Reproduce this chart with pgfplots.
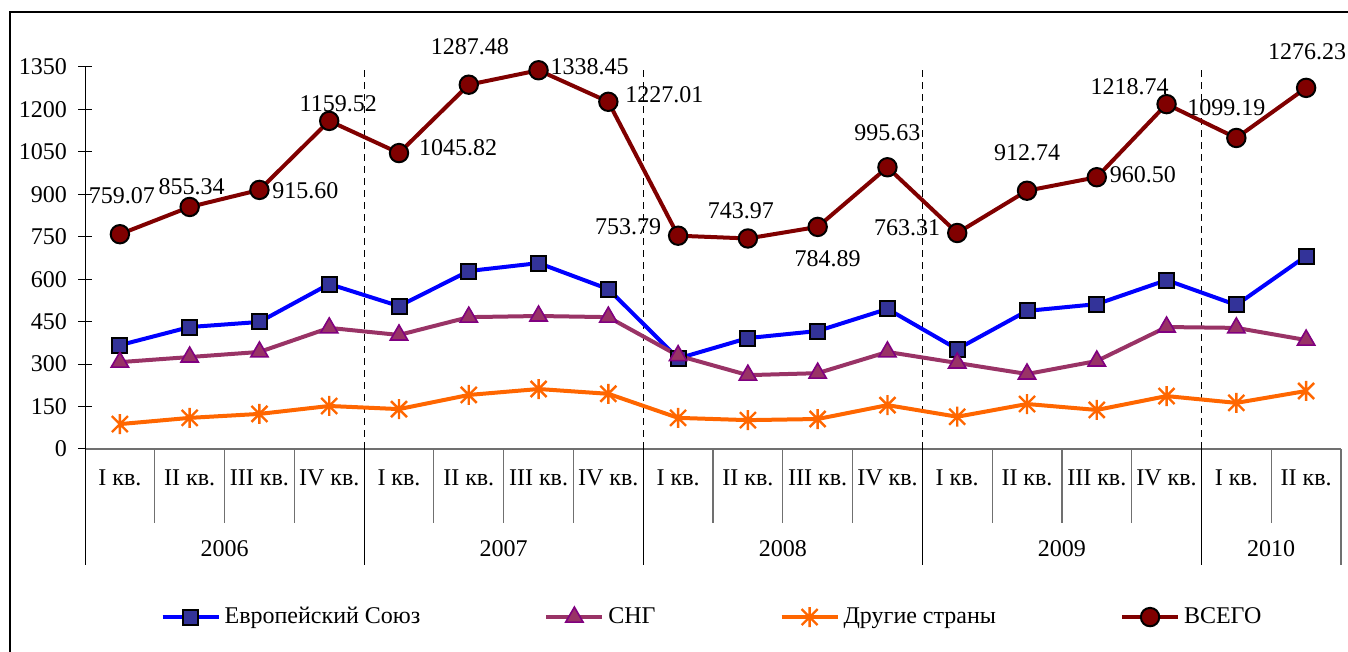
\documentclass[border=0pt]{standalone}
\usepackage{fontspec}
\setmainfont{Liberation Serif}
\usepackage{pgfplots}
\pgfplotsset{compat=1.18}
\usepackage{pgfplotstable}

\definecolor{total}{HTML}{800000}
\definecolor{eu}{HTML}{0000FF}
\definecolor{eufill}{HTML}{333399}
\definecolor{cis}{HTML}{993366}
\definecolor{cisedge}{HTML}{800080}
\definecolor{other}{HTML}{FF6600}
\definecolor{sep}{HTML}{707070}

% Excel-Stern: X mit senkrechtem Strich
\pgfdeclareplotmark{xstar}{%
  \pgfpathmoveto{\pgfqpoint{-0.8\pgfplotmarksize}{-0.8\pgfplotmarksize}}%
  \pgfpathlineto{\pgfqpoint{0.8\pgfplotmarksize}{0.8\pgfplotmarksize}}%
  \pgfpathmoveto{\pgfqpoint{-0.8\pgfplotmarksize}{0.8\pgfplotmarksize}}%
  \pgfpathlineto{\pgfqpoint{0.8\pgfplotmarksize}{-0.8\pgfplotmarksize}}%
  \pgfpathmoveto{\pgfqpoint{0pt}{-\pgfplotmarksize}}%
  \pgfpathlineto{\pgfqpoint{0pt}{\pgfplotmarksize}}%
  \pgfusepathqstroke}

% Quartale 2006 I ... 2010 II
\pgfplotstableread{
x eu cis other
0 367 307 88
1 431 325 110
2 449 343 124
3 583 428 152
4 505 403 141
5 629 466 191
6 657 470 212
7 565 466 195
8 320 330 110
9 392 261 102
10 417 268 106
11 495 343 155
12 353 304 114
13 488 265 159
14 512 311 138
15 597 431 187
16 509 428 163
17 682 385 205
}\regions

% ВСЕГО mit Beschriftung und Versatz (pt)
\pgfplotstableread{
x y lab dx dy
0 759.07 759.07 1 19.5
1 855.34 855.34 1 10
2 915.60 915.60 23 -0.5
3 1159.52 1159.52 4.5 8.5
4 1045.82 1045.82 29.5 2.5
5 1287.48 1287.48 0.5 19
6 1338.45 1338.45 25.5 2
7 1227.01 1227.01 28 3.5
8 753.79 753.79 -25 4.5
9 743.97 743.97 -3.5 14
10 784.89 784.89 5 -16
11 995.63 995.63 0 17.5
12 763.31 763.31 -25 2.5
13 912.74 912.74 0 19
14 960.50 960.50 23 1.5
15 1218.74 1218.74 -18.5 8.5
16 1099.19 1099.19 -5 15
17 1276.23 1276.23 0.5 18
}\totaldata

\begin{document}
\begin{tikzpicture}[font=\fontsize{12}{14}\selectfont]
\useasboundingbox (0,0) rectangle (674pt,326pt);
\draw[line width=0.6pt] (5pt,-10pt) -- (5pt,320pt) -- (690pt,320pt);

\begin{axis}[
    at={(42.5pt,101.5pt)}, anchor=south west,
    scale only axis, width=628pt, height=191pt,
    xmin=-0.5, xmax=17.5, ymin=0, ymax=1350,
    axis lines*=left,
    x axis line style={sep, line width=0.6pt},
    y axis line style={black, line width=0.5pt},
    ytick={0,150,...,1350},
    xtick={0,...,17},
    xticklabels={I кв.,II кв.,III кв.,IV кв.,I кв.,II кв.,III кв.,IV кв.,I кв.,II кв.,III кв.,IV кв.,I кв.,II кв.,III кв.,IV кв.,I кв.,II кв.},
    xtick style={draw=none},
    ytick style={black, line width=0.5pt},
    tick align=center, major tick length=7pt,
    xticklabel style={anchor=center, yshift=-11pt},
    yticklabel style={xshift=-2pt},
    tick label style={font=\fontsize{12}{14}\selectfont},
    /pgf/number format/assume math mode=true,
    /pgf/number format/1000 sep={},
    clip=false,
    legend columns=4,
    legend style={at={(0.5,-0.44)}, anchor=center, draw=none,
        font=\fontsize{12}{14}\selectfont,
        /tikz/every even column/.append style={column sep=60pt}},
    legend image code/.code={
        \draw[mark repeat=2, mark phase=2, #1] plot coordinates {(0pt,0pt) (14pt,0pt) (28pt,0pt)};
    },
]

% Jahresgrenzen
\pgfplotsinvokeforeach{3.5,7.5,11.5,15.5}{
    \draw[black, line width=0.5pt, dash pattern=on 3.5pt off 2.5pt] (axis cs:#1,0) -- (axis cs:#1,1350);
}
\pgfplotsinvokeforeach{-0.5,3.5,7.5,11.5,15.5}{
    \draw[black, line width=0.5pt] (axis cs:#1,0) -- ++(0pt,-58pt);
}
\draw[sep, line width=0.6pt] (axis cs:17.5,0) -- ++(0pt,-58pt);
\pgfplotsinvokeforeach{0.5,1.5,2.5,4.5,5.5,6.5,8.5,9.5,10.5,12.5,13.5,14.5,16.5}{
    \draw[sep, line width=0.6pt] (axis cs:#1,0) -- ++(0pt,-37pt);
}
\node at ([yshift=-50pt]axis cs:1.5,0) {2006};
\node at ([yshift=-50pt]axis cs:5.5,0) {2007};
\node at ([yshift=-50pt]axis cs:9.5,0) {2008};
\node at ([yshift=-50pt]axis cs:13.5,0) {2009};
\node at ([yshift=-50pt]axis cs:16.5,0) {2010};

\addplot[eu, line width=2pt, mark=square*, mark size=3.75pt,
    mark options={fill=eufill, draw=black, line width=1pt}]
    table[x=x, y=eu] {\regions};
\addlegendentry{Европейский Союз}

\addplot[cis, line width=2pt, mark=triangle*, mark size=5pt,
    mark options={fill=cis, draw=cisedge, line width=0.8pt}]
    table[x=x, y=cis] {\regions};
\addlegendentry{СНГ}

\addplot[other, line width=2pt, mark=xstar, mark size=5pt,
    mark options={line width=1.2pt}]
    table[x=x, y=other] {\regions};
\addlegendentry{Другие страны}

\addplot[total, line width=2pt, mark=*, mark size=4.6pt,
    mark options={fill=total, draw=black, line width=1pt},
    point meta=explicit symbolic,
    nodes near coords={\pgfplotspointmeta},
    visualization depends on={\thisrow{dx} \as \dx},
    visualization depends on={\thisrow{dy} \as \dy},
    every node near coord/.append style={anchor=center, text=black,
        xshift=\dx pt, yshift=\dy pt, font=\fontsize{12}{14}\selectfont}]
    table[x=x, y=y, meta=lab] {\totaldata};
\addlegendentry{ВСЕГО}

\end{axis}
\end{tikzpicture}
\end{document}
